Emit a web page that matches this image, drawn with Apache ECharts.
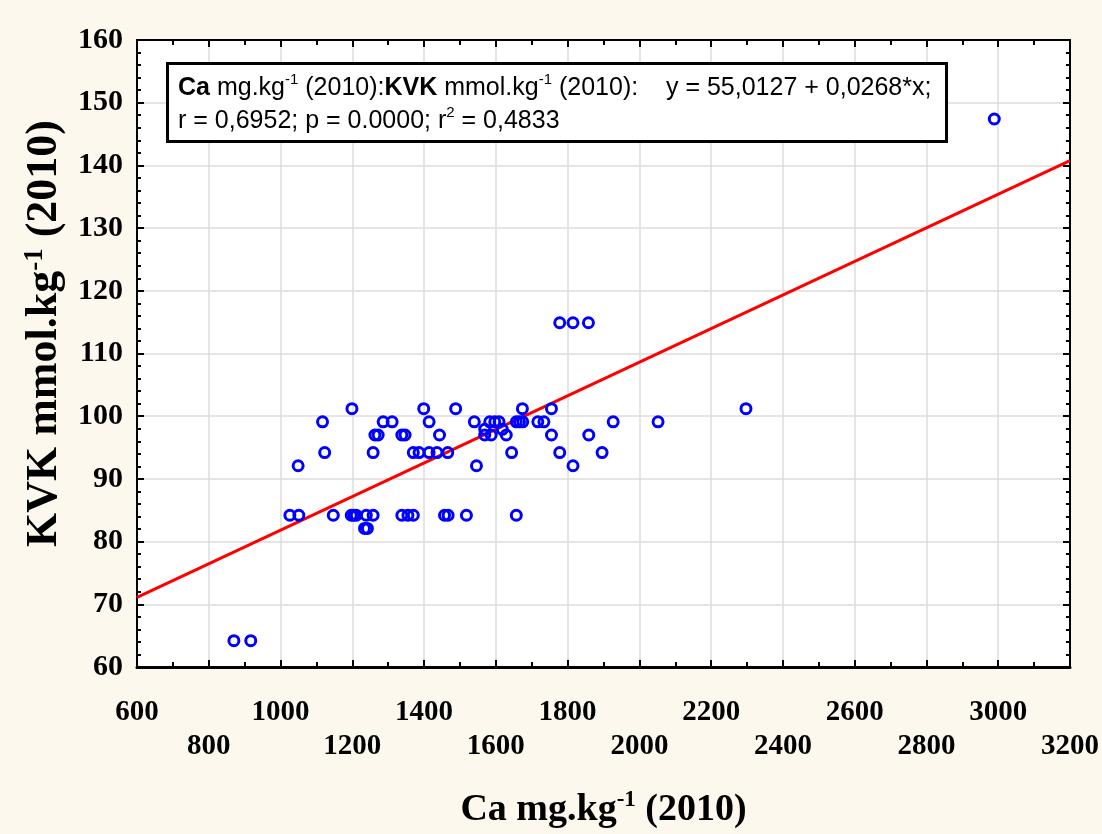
<!DOCTYPE html>
<html>
<head>
<meta charset="utf-8">
<script src="https://cdn.jsdelivr.net/npm/echarts@6/dist/echarts.min.js"></script>
<style>
html,body{margin:0;padding:0;background:#FDF8EE;}
#chart{width:1102px;height:834px;}
</style>
</head>
<body>
<div id="chart"></div>
<script>
// Scatter data: Ca mg/kg (x) and KVK mmol/kg (y), paired
const caValues = [
  1199, 1399, 1488, 1674, 1755, 2297,
  1117, 1286, 1311, 1414, 1540, 1583, 1597, 1609, 1657, 1666, 1675, 1717, 1734, 1927, 2052,
  1569, 1618,
  1263, 1272, 1338, 1347, 1443, 1569, 1587, 1629, 1755, 1859,
  1123, 1258, 1370, 1386, 1414, 1436, 1466, 1644, 1778, 1896,
  1049, 1546, 1815,
  1026, 1051, 1147, 1197, 1204, 1211, 1239, 1258, 1338, 1355, 1370, 1457, 1467, 1518, 1657,
  1234, 1242,
  870, 917,
  1778, 1815, 1858,
  2989
];
const kvkValues = [
  101.2, 101.2, 101.2, 101.2, 101.2, 101.2,
  99.1, 99.1, 99.1, 99.1, 99.1, 99.1, 99.1, 99.1, 99.1, 99.1, 99.1, 99.1, 99.1, 99.1, 99.1,
  97.9, 97.9,
  97.0, 97.0, 97.0, 97.0, 97.0, 97.0, 97.0, 97.0, 97.0, 97.0,
  94.2, 94.2, 94.2, 94.2, 94.2, 94.2, 94.2, 94.2, 94.2, 94.2,
  92.1, 92.1, 92.1,
  84.2, 84.2, 84.2, 84.2, 84.2, 84.2, 84.2, 84.2, 84.2, 84.2, 84.2, 84.2, 84.2, 84.2, 84.2,
  82.1, 82.1,
  64.2, 64.2,
  114.9, 114.9, 114.9,
  147.4
];
// Regression shown in the legend box
const fitIntercept = 55.0127;
const fitSlope = 0.0268;
const fitRange = [600, 3200];
// Tick labels
const xLabelsRow1 = [600, 1000, 1400, 1800, 2200, 2600, 3000];
const xLabelsRow2 = [800, 1200, 1600, 2000, 2400, 2800, 3200];
const yLabels = [60, 70, 80, 90, 100, 110, 120, 130, 140, 150, 160];

const scatterData = caValues.map((c, i) => [c, kvkValues[i]]);
const fitData = fitRange.map(x => [x, fitIntercept + fitSlope * x]);

const chart = echarts.init(document.getElementById('chart'), null, {renderer: 'canvas'});
const serif = '"Liberation Serif", "Times New Roman", serif';
const sans = '"Liberation Sans", Arial, sans-serif';
const gridLeft = 137, gridTop = 40, gridRight = 31, gridBottom = 151;

const tickStyle = {color: '#000', width: 2};
const option = {
  backgroundColor: '#FDF8EE',
  animation: false,
  grid: {left: gridLeft, top: gridTop, right: gridRight, bottom: gridBottom, show: true,
         backgroundColor: '#ffffff', borderColor: '#000', borderWidth: 2},
  xAxis: [{
    type: 'value', min: 600, max: 3200, interval: 200, position: 'bottom',
    axisLine: {show: true, onZero: false, lineStyle: {color: '#000', width: 3}},
    axisTick: {show: true, inside: true, length: 7, lineStyle: tickStyle},
    minorTick: {show: true, splitNumber: 2, length: 5, lineStyle: tickStyle},
    splitLine: {show: true, lineStyle: {color: '#dcdcdc', width: 1.5}},
    axisLabel: {
      margin: 29, color: '#000', fontFamily: serif, fontWeight: 'bold', fontSize: 29, lineHeight: 34,
      showMinLabel: true, showMaxLabel: true,
      formatter: v => xLabelsRow2.includes(v) ? '\n' + v : (xLabelsRow1.includes(v) ? String(v) : '')
    },
    name: '{t|Ca mg.kg}{s|-1}{t| (2010)}', nameLocation: 'middle', nameGap: 122,
    nameTextStyle: {
      rich: {
        t: {fontFamily: serif, fontWeight: 'bold', fontSize: 38, color: '#000', lineHeight: 42},
        s: {fontFamily: serif, fontWeight: 'bold', fontSize: 23, color: '#000', verticalAlign: 'top', lineHeight: 42, padding: [0, 0, 14, 0]}
      }
    }
  }, {
    type: 'value', min: 600, max: 3200, interval: 200, position: 'top',
    axisLine: {show: true, onZero: false, lineStyle: {color: '#000', width: 2}},
    axisTick: {show: true, inside: true, length: 7, lineStyle: tickStyle},
    minorTick: {show: true, splitNumber: 2, length: 5, lineStyle: tickStyle},
    splitLine: {show: false}, axisLabel: {show: false}
  }],
  yAxis: [{
    type: 'value', min: 60, max: 160, interval: 10, position: 'left',
    axisLine: {show: true, onZero: false, lineStyle: {color: '#000', width: 2}},
    axisTick: {show: true, inside: true, length: 7, lineStyle: tickStyle},
    minorTick: {show: true, splitNumber: 5, length: 4, lineStyle: tickStyle},
    splitLine: {show: true, lineStyle: {color: '#dcdcdc', width: 1.5}},
    axisLabel: {margin: 14, color: '#000', fontFamily: serif, fontWeight: 'bold', fontSize: 30,
      formatter: v => yLabels.includes(v) ? String(v) : ''},
    name: '{t|KVK mmol.kg}{s|-1}{t| (2010)}', nameLocation: 'middle', nameGap: 64, nameRotate: 90,
    nameTextStyle: {
      padding: [0, 0, 0, 40],
      rich: {
        t: {fontFamily: serif, fontWeight: 'bold', fontSize: 44, color: '#000', lineHeight: 48},
        s: {fontFamily: serif, fontWeight: 'bold', fontSize: 27, color: '#000', verticalAlign: 'top', lineHeight: 48, padding: [0, 0, 16, 0]}
      }
    }
  }, {
    type: 'value', min: 60, max: 160, interval: 10, position: 'right',
    axisLine: {show: true, onZero: false, lineStyle: {color: '#000', width: 2}},
    axisTick: {show: true, inside: true, length: 7, lineStyle: tickStyle},
    minorTick: {show: true, splitNumber: 5, length: 4, lineStyle: tickStyle},
    splitLine: {show: false}, axisLabel: {show: false}
  }],
  series: [{
    type: 'line', data: fitData, showSymbol: false, symbol: 'none', silent: true, z: 2,
    lineStyle: {color: '#ff0000', width: 3}
  }, {
    type: 'scatter', data: scatterData, symbol: 'circle', symbolSize: 10, z: 3,
    itemStyle: {color: 'rgba(0,0,0,0)', borderColor: '#0000ff', borderWidth: 3, opacity: 1}
  }],
  graphic: [{
    type: 'rect', left: 166, top: 62, z: 100, zlevel: 1,
    shape: {x: 0, y: 0, width: 779, height: 78},
    style: {fill: '#ffffff', stroke: '#000', lineWidth: 3}
  }, {
    type: 'text', left: 178, top: 72, z: 101, zlevel: 1,
    style: {
      text: '{b|Ca} mg.kg{s|-1} (2010):{b|KVK} mmol.kg{s|-1} (2010):    y = 55,0127 + 0,0268*x;\nr = 0,6952; p = 0.0000; r{s|2} = 0,4833',
      font: '25px ' + sans, fill: '#000', lineHeight: 33,
      rich: {
        b: {font: 'bold 25px ' + sans, fill: '#000', lineHeight: 33},
        s: {font: '15px ' + sans, fill: '#000', verticalAlign: 'top', lineHeight: 33, padding: [0, 0, 10, 0]}
      }
    }
  }]
};
chart.setOption(option);
</script>
</body>
</html>
